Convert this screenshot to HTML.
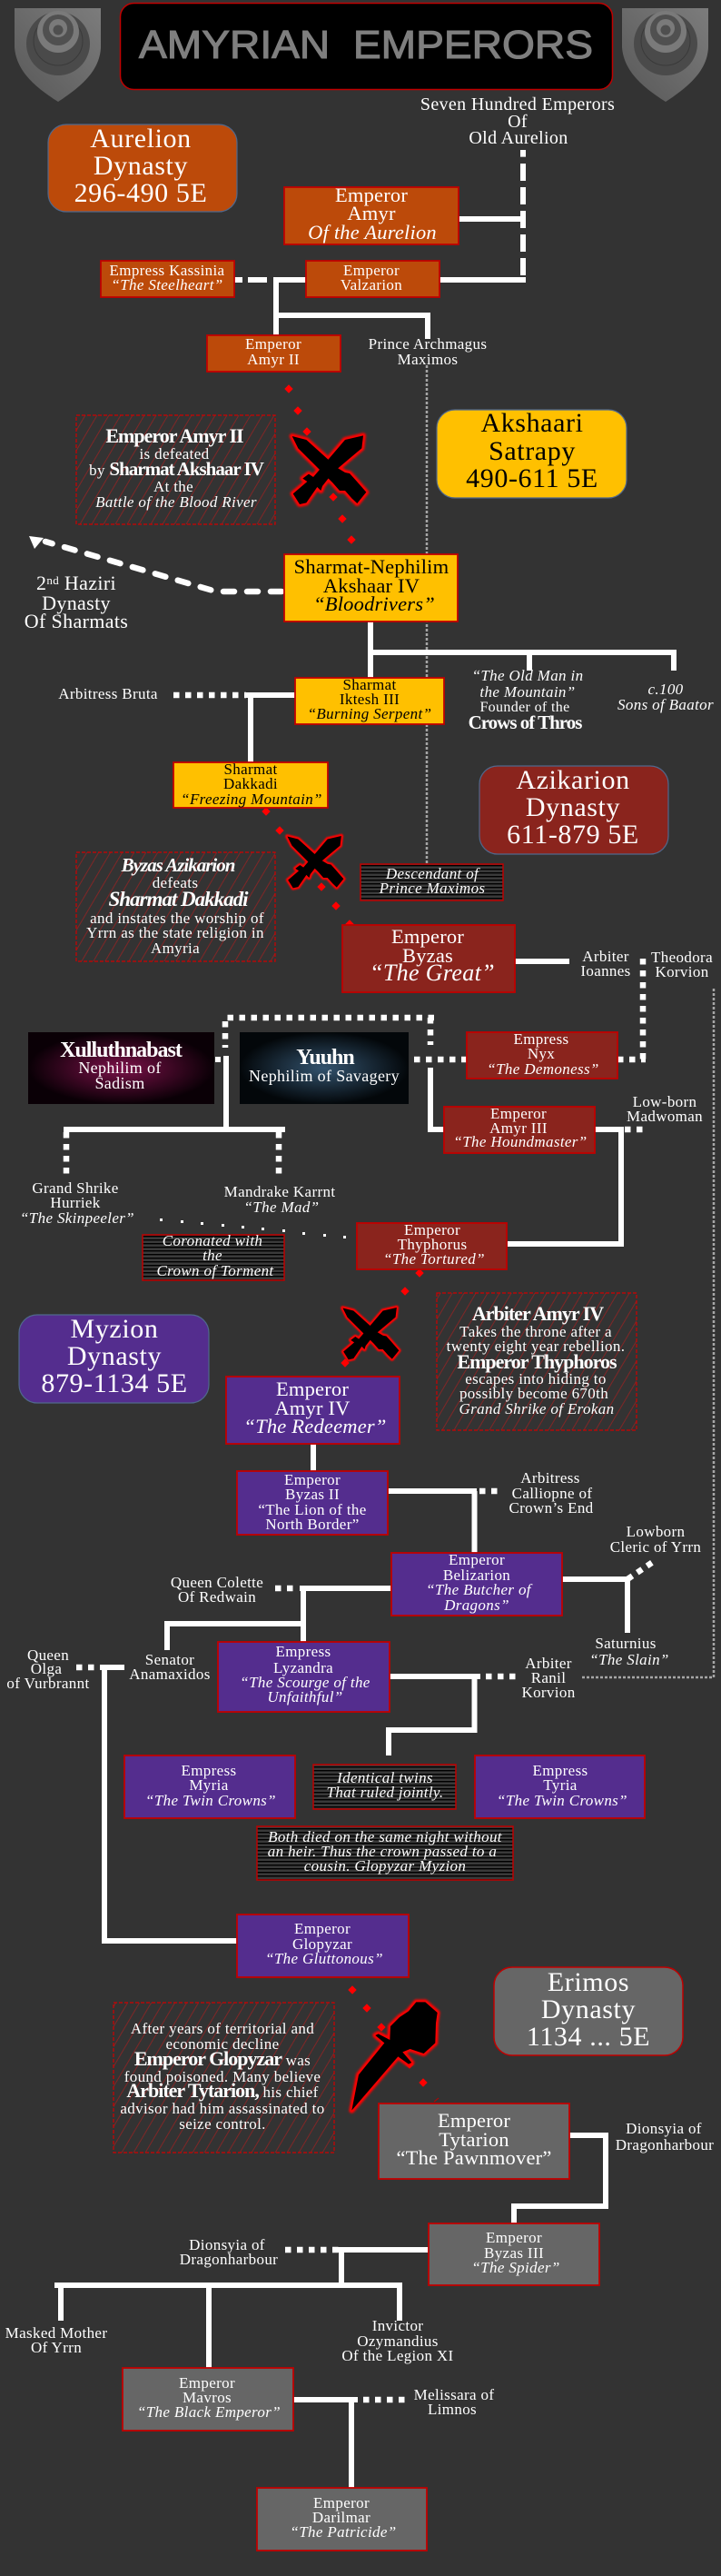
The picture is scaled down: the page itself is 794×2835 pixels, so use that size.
<!DOCTYPE html>
<html><head><meta charset="utf-8"><title>Amyrian Emperors</title>
<style>
html,body{margin:0;padding:0;background:#333}
svg{display:block}
text{font-family:"Liberation Serif",serif;fill:#fff;text-anchor:middle;font-size:17px;letter-spacing:.35px}
.k{fill:#000}
.i{font-style:italic}
.b{font-weight:bold;letter-spacing:-1px}
.d{font-size:30px;letter-spacing:.6px}
.l{font-size:22.5px;letter-spacing:.2px}
.box{stroke:#c00000;stroke-width:1.8}
.or{fill:#bc4a0a}.ye{fill:#ffc000}.re{fill:#8a241d}.pu{fill:#542d8e}.gr{fill:#666}
.w{stroke:#fff;stroke-width:6;fill:none}
.dot{stroke:#fff;stroke-width:6.5;stroke-dasharray:6.5 6.5;fill:none}
.note{fill:url(#hatch);stroke:#d00000;stroke-width:1.2;stroke-dasharray:4 2}
.str{fill:url(#stripe);stroke:#c00000;stroke-width:1.5}
.g{stroke:#a6a6a6;stroke-width:2.5;stroke-dasharray:3 2;fill:none}
</style></head><body>
<svg xmlns="http://www.w3.org/2000/svg" width="794" height="2835" viewBox="0 0 794 2835">
<defs>
<pattern id="hatch" width="13" height="22" patternUnits="userSpaceOnUse">
<rect width="13" height="22" fill="#333"/><path d="M0 22L13 0M-13 22L0 0M13 22L26 0" stroke="#7f2626" stroke-width="1" fill="none"/></pattern>
<pattern id="stripe" width="4" height="4" patternUnits="userSpaceOnUse">
<rect width="4" height="4" fill="#3a3a3a"/><rect width="4" height="1.4" fill="#000"/></pattern>
<linearGradient id="sg" x1="1" y1="0" x2="0" y2="1"><stop offset="0" stop-color="#7c7c7c"/><stop offset="1" stop-color="#585858"/></linearGradient>
<radialGradient id="xg"><stop offset="0" stop-color="#7a1048"/><stop offset="1" stop-color="#0a0006"/></radialGradient>
<radialGradient id="yg"><stop offset="0" stop-color="#33536e"/><stop offset="1" stop-color="#03070a"/></radialGradient>
<filter id="bl" x="-20%" y="-20%" width="140%" height="140%"><feGaussianBlur stdDeviation="3"/></filter>
<symbol id="shield" viewBox="0 0 130 120" width="130" height="120">
<path d="M16 9L111 9L111 52C110 80 85 98 64 112C42 98 18 80 16 52Z" fill="url(#sg)"/>
<circle cx="64" cy="48" r="35" fill="#4a4a4a"/>
<circle cx="64" cy="45" r="27" fill="none" stroke="#3a3a3a"/>
<circle cx="64" cy="35" r="23" fill="#7a7a7a"/>
<circle cx="64" cy="33" r="17" fill="#505050"/>
<circle cx="64" cy="31" r="10" fill="#7a7a7a"/>
<circle cx="64" cy="33" r="5.5" fill="#4f4f4f"/>
</symbol>
<symbol id="swords" viewBox="0 0 360 330" width="120" height="110">
<g filter="url(#bl)" fill="#f00" stroke="#f00" stroke-width="18" stroke-linejoin="round">
<path d="M65 60L112 72L215 165L240 180L255 183L275 205L310 245L280 282L262 265L240 240L222 240L200 215L85 100Z"/>
<path d="M300 58L295 100L200 180L165 225L160 240L148 228L112 280L90 285L68 250L115 210L100 200L120 185L135 195L240 72Z"/>
</g>
<g fill="#000">
<path d="M65 60L112 72L215 165L240 180L255 183L275 205L310 245L280 282L262 265L240 240L222 240L200 215L85 100Z"/>
<path d="M300 58L295 100L200 180L165 225L160 240L148 228L112 280L90 285L68 250L115 210L100 200L120 185L135 195L240 72Z"/>
</g>
</symbol>
</defs>
<rect width="794" height="2835" fill="#333"/>

<use href="#shield" x="0" y="0"/>
<use href="#shield" x="669" y="0"/>
<rect x="132.500" y="3.500" width="542" height="95" rx="15" fill="#000" stroke="#c00000" stroke-width="1.500"/>
<text x="403" y="64" textLength="500" lengthAdjust="spacingAndGlyphs" style="font-family:'Liberation Sans',sans-serif;font-size:44px;fill:#7f7f7f;stroke:#7f7f7f;stroke-width:1.1px;letter-spacing:0">AMYRIAN&#160;&#160;EMPERORS</text>

<!-- gray dotted -->
<path class="g" d="M470 402V960"/>
<path class="g" d="M786 1088V1846H639"/>

<!-- connectors -->
<g>
<path class="w" stroke-dasharray="19 7" d="M576 180V305"/>
<path class="w" d="M576 165V172.600M505 241H576M484 308H579M302 308H337M304 305V369M304 347H474M471 347V373"/>
<path class="w" d="M258 308H267M273 308H294"/>

<path class="w" d="M408 684V746M405 718H745M583 718V738M742 718V738"/>
<path class="dot" d="M191 765H271"/>
<path class="w" d="M271 765H325M276 762V839"/>

<path class="w" stroke-width="7" d="M567 1058H627"/>
<path class="dot" d="M708 1055V1167"/>
<path class="dot" d="M680 1166H711"/>
<path class="dot" d="M478 1120H248V1153"/>
<path class="dot" d="M474 1120V1150"/>
<path class="dot" d="M456 1166H514"/>
<path class="w" d="M237 1166H243"/>
<path class="w" d="M249 1162V1243M70 1243H314M474 1175V1246M471 1243H489M655 1243H684M684 1240V1369M559 1369H687"/>
<path class="dot" d="M73 1246V1292"/>
<path class="dot" d="M307 1246V1296"/>
<path class="dot" d="M688 1243H713"/>
<g fill="#fff"><rect x="176" y="1341" width="3" height="3"/><rect x="199" y="1343" width="3" height="3"/><rect x="221" y="1345" width="3" height="3"/><rect x="244" y="1347" width="3" height="3"/><rect x="266" y="1349" width="3" height="3"/><rect x="288" y="1351" width="3" height="3"/><rect x="311" y="1353" width="3" height="3"/><rect x="333" y="1356" width="3" height="3"/><rect x="356" y="1358" width="3" height="3"/><rect x="378" y="1360" width="3" height="3"/></g>

<path class="w" d="M345 1589V1619M427 1641H525M522.500 1641V1709"/>
<path class="dot" d="M528 1641H554"/>
<path class="w" d="M619 1738H694M691 1735V1797"/>
<path class="dot" stroke-dasharray="6 4" d="M691 1738L719 1719"/>
<path class="dot" d="M303 1748H324"/>
<path class="w" d="M330 1748H431M334 1745V1807M181 1787H337M184 1784V1816"/>
<path class="w" d="M429 1845H529M522.500 1845V1907M522 1904H425M428 1901V1932"/>
<path class="dot" d="M535 1845H570"/>
<path class="dot" d="M84 1835H104"/>
<path class="w" d="M110 1835H137M115 1832V2136M112 2136H261"/>

<path class="w" d="M627 2350H670M667 2347V2431M670 2428H563M566 2425V2447"/>
<path class="dot" d="M314 2476H375"/>
<path class="w" d="M372 2476H472M376 2473V2515M60 2515H440M67 2512V2554M230 2515V2606M440 2512V2554"/>
<path class="w" stroke-width="7" d="M323 2641H394"/>
<path class="w" d="M387 2638V2738"/>
<path class="dot" d="M400 2641H448"/>
</g>

<!-- haziri arrow -->
<path d="M310 651H238L50 596" fill="none" stroke="#fff" stroke-width="6.500" stroke-linecap="round" stroke-dasharray="12 14"/>
<path d="M32 590L48 592L38 604Z" fill="#fff"/>

<!-- red diamonds -->
<g fill="#f00" stroke="#f00" stroke-width="1">
<path d="M318 424l4 4-4 4-4-4zM328 448l4 4-4 4-4-4zM338 471l4 4-4 4-4-4zM367 543l4 4-4 4-4-4zM377 567l4 4-4 4-4-4zM387 590l4 4-4 4-4-4z"/>
<path d="M293 889l4 4-4 4-4-4zM308 910l4 4-4 4-4-4zM354 972l4 4-4 4-4-4zM370 993l4 4-4 4-4-4zM385 1013l5 5h-10z"/>
<path d="M462 1397l4 4-4 4-4-4zM446 1417l4 4-4 4-4-4zM380 1496l4 4-4 4-4-4z"/>
<path d="M388 2186l4 4-4 4-4-4zM404 2206l4 4-4 4-4-4zM420 2227l4 4-4 4-4-4zM451 2268l4 4-4 4-4-4zM466 2288l4 4-4 4-4-4z"/>
</g>
<path d="M478 2313l5-4" stroke="#c00000" fill="none"/>

<!-- swords -->
<use href="#swords" x="300" y="460"/>
<use href="#swords" x="300" y="905" width="91" height="84"/>
<use href="#swords" x="361" y="1424" width="91" height="84"/>
<g transform="translate(370 2190) scale(.3333)">
<path filter="url(#bl)" fill="#f00" stroke="#f00" stroke-width="18" stroke-linejoin="round" d="M52 398L75 280L160 175L130 150L140 145L178 165L180 120L210 90L240 70L265 40L295 40L335 75L330 110L328 175L290 210L245 195L220 205L250 240L240 245L205 220Z"/>
<path fill="#000" d="M52 398L75 280L160 175L130 150L140 145L178 165L180 120L210 90L240 70L265 40L295 40L335 75L330 110L328 175L290 210L245 195L220 205L250 240L240 245L205 220Z"/>
</g>

<!-- Dynasty badges -->
<g stroke="#50688c" stroke-width="1.200">
<rect class="or" x="53" y="137" width="208" height="96" rx="20"/>
<rect class="ye" x="481" y="451" width="209" height="97" rx="20"/>
<rect class="re" x="528" y="843" width="208" height="97" rx="20"/>
<rect class="pu" x="21" y="1447" width="209" height="97" rx="20"/>
</g>
<rect class="gr" x="544" y="2165" width="208" height="97" rx="20" stroke="#c00000" stroke-width="1.500"/>
<g>
<text class="d" x="155" y="162">Aurelion</text><text class="d" x="155" y="192">Dynasty</text><text class="d" x="155" y="222">296-490 5E</text>
<text class="d k" x="586" y="475">Akshaari</text><text class="d k" x="586" y="506">Satrapy</text><text class="d k" x="586" y="536">490-611 5E</text>
<text class="d" x="631" y="868">Azikarion</text><text class="d" x="631" y="898">Dynasty</text><text class="d" x="631" y="928">611-879 5E</text>
<text class="d" x="126" y="1472">Myzion</text><text class="d" x="126" y="1502">Dynasty</text><text class="d" x="126" y="1532">879-1134 5E</text>
<text class="d" x="648" y="2191">Erimos</text><text class="d" x="648" y="2221">Dynasty</text><text class="d" x="648" y="2251">1134 ... 5E</text>
</g>

<!-- boxes -->
<rect class="box or" x="313" y="206" width="192" height="63"/>
<rect class="box or" x="111" y="287" width="147" height="40"/>
<rect class="box or" x="337" y="287" width="147" height="40"/>
<rect class="box or" x="228" y="369" width="147" height="40"/>
<rect class="box ye" x="313" y="610" width="191" height="74"/>
<rect class="box ye" x="325" y="746" width="164" height="51"/>
<rect class="box ye" x="191" y="839" width="170" height="50"/>
<rect class="box re" x="377" y="1018" width="190" height="74"/>
<rect class="box re" x="514" y="1136" width="166" height="51"/>
<rect class="box re" x="489" y="1218" width="166" height="51"/>
<rect class="box re" x="393" y="1346" width="165" height="51"/>
<rect class="box pu" x="249" y="1515" width="191" height="74"/>
<rect class="box pu" x="261" y="1619" width="166" height="70"/>
<rect class="box pu" x="431" y="1709" width="188" height="69"/>
<rect class="box pu" x="240" y="1807" width="189" height="77"/>
<rect class="box pu" x="137" y="1932" width="188" height="69"/>
<rect class="box pu" x="523" y="1932" width="187" height="69"/>
<rect class="box pu" x="261" y="2107" width="189" height="69"/>
<rect class="box gr" x="417" y="2315" width="210" height="83"/>
<rect class="box gr" x="472" y="2447" width="188" height="68"/>
<rect class="box gr" x="135" y="2606" width="188" height="69"/>
<rect class="box gr" x="283" y="2738" width="187" height="69"/>
<rect x="31" y="1136" width="205" height="79" fill="url(#xg)"/>
<rect x="264" y="1136" width="186" height="79" fill="url(#yg)"/>
<rect class="note" x="84" y="457" width="219" height="120"/>
<rect class="note" x="84" y="938" width="219" height="120"/>
<rect class="note" x="481" y="1423" width="220" height="151"/>
<rect class="note" x="125" y="2204" width="243" height="165"/>
<rect class="str" x="397" y="951" width="157" height="40"/>
<rect class="str" x="157" y="1359" width="156" height="50"/>
<rect class="str" x="345" y="1942" width="157" height="49"/>
<rect class="str" x="283" y="2010" width="282" height="59"/>

<!-- labels -->
<g>
<text x="570" y="121" style="font-size:20px">Seven Hundred Emperors</text><text x="570" y="140" style="font-size:20px">Of</text><text x="571" y="158" style="font-size:20px">Old Aurelion</text>
<text class="l" x="409" y="222">Emperor</text><text class="l" x="409" y="242">Amyr</text><text class="l i" x="410" y="263">Of the Aurelion</text>
<text x="184" y="303">Empress Kassinia</text><text class="i" x="184" y="319">“The Steelheart”</text>
<text x="409" y="303">Emperor</text><text x="409" y="319">Valzarion</text>
<text x="301" y="384">Emperor</text><text x="301" y="401">Amyr II</text>
<text x="471" y="384">Prince Archmagus</text><text x="471" y="401">Maximos</text>

<text class="b" x="192" y="487" style="font-size:22px">Emperor Amyr II</text>
<text x="192" y="505">is defeated</text>
<text x="194" y="523">by <tspan class="b" style="font-size:21px">Sharmat Akshaar IV</tspan></text>
<text x="191" y="541">At the</text>
<text class="i" x="194" y="558">Battle of the Blood River</text>

<text class="l k" x="409" y="631">Sharmat-Nephilim</text><text class="l k" x="409" y="652">Akshaar IV</text><text class="l k i" x="412" y="672">“Bloodrivers”</text>
<text x="84" y="649" style="font-size:22px">2<tspan dy="-6" style="font-size:13px">nd</tspan><tspan dy="6"> Haziri</tspan></text>
<text x="84" y="671" style="font-size:22px">Dynasty</text><text x="84" y="691" style="font-size:22px">Of Sharmats</text>
<text x="119" y="769">Arbitress Bruta</text>
<text class="k" x="407" y="759">Sharmat</text><text class="k" x="407" y="775">Iktesh III</text><text class="k i" x="407" y="791">“Burning Serpent”</text>
<text class="i" x="581" y="749">“The Old Man in</text><text class="i" x="581" y="767">the Mountain”</text>
<text x="578" y="783" style="font-size:16px">Founder of the</text>
<text class="b" x="578" y="802" style="font-size:21px">Crows of Thros</text>
<text class="i" x="733" y="764">c.100</text><text class="i" x="733" y="781">Sons of Baator</text>
<text class="k" x="276" y="852">Sharmat</text><text class="k" x="276" y="868">Dakkadi</text><text class="k i" x="277" y="885">“Freezing Mountain”</text>

<text class="b i" x="196" y="959" style="font-size:21px">Byzas Azikarion</text>
<text x="193" y="977">defeats</text>
<text class="b i" x="196" y="997" style="font-size:23px">Sharmat Dakkadi</text>
<text x="195" y="1016">and instates the worship of</text><text x="193" y="1032">Yrrn as the state religion in</text><text x="193" y="1049">Amyria</text>
<text class="i" x="476" y="967">Descendant of</text><text class="i" x="476" y="983">Prince Maximos</text>

<text class="l" x="471" y="1038">Emperor</text><text class="l" x="471" y="1059">Byzas</text><text class="i" x="476" y="1079" style="font-size:26px">“The Great”</text>
<text x="667" y="1058">Arbiter</text><text x="667" y="1074">Ioannes</text>
<text x="751" y="1059">Theodora</text><text x="751" y="1075">Korvion</text>
<text x="596" y="1149">Empress</text><text x="596" y="1165">Nyx</text><text class="i" x="598" y="1182">“The Demoness”</text>
<text class="b" x="133" y="1163" style="font-size:24px">Xulluthnabast</text><text x="132" y="1181" style="font-size:18px">Nephilim of</text><text x="132" y="1198" style="font-size:18px">Sadism</text>
<text class="b" x="358" y="1171" style="font-size:24px">Yuuhn</text><text x="357" y="1190" style="font-size:18px">Nephilim of Savagery</text>
<text x="571" y="1231">Emperor</text><text x="571" y="1247">Amyr III</text><text class="i" x="573" y="1262">“The Houndmaster”</text>
<text x="732" y="1218">Low-born</text><text x="732" y="1234">Madwoman</text>
<text x="83" y="1313">Grand Shrike</text><text x="83" y="1329">Hurriek</text><text class="i" x="85" y="1346">“The Skinpeeler”</text>
<text x="308" y="1317">Mandrake Karrnt</text><text class="i" x="310" y="1334">“The Mad”</text>
<text class="i" x="234" y="1371">Coronated with</text><text class="i" x="234" y="1387">the</text><text class="i" x="237" y="1404">Crown of Torment</text>
<text x="476" y="1359">Emperor</text><text x="476" y="1375">Thyphorus</text><text class="i" x="478" y="1391">“The Tortured”</text>

<text class="b" x="592" y="1453" style="font-size:22px">Arbiter Amyr IV</text>
<text x="590" y="1471">Takes the throne after a</text><text x="590" y="1487">twenty eight year rebellion.</text>
<text class="b" x="591" y="1506" style="font-size:22px">Emperor Thyphoros</text>
<text x="590" y="1523">escapes into hiding to</text><text x="588" y="1539">possibly become 670th</text><text class="i" x="591" y="1556">Grand Shrike of Erokan</text>

<text class="l" x="344" y="1536">Emperor</text><text class="l" x="344" y="1557">Amyr IV</text><text class="l i" x="347" y="1577">“The Redeemer”</text>
<text x="344" y="1634">Emperor</text><text x="344" y="1650">Byzas II</text><text x="344" y="1667">“The Lion of the</text><text x="344" y="1683">North Border”</text>
<text x="606" y="1632">Arbitress</text><text x="608" y="1649">Calliopne of</text><text x="607" y="1665">Crown’s End</text>
<text x="525" y="1722">Emperor</text><text x="525" y="1739">Belizarion</text><text class="i" x="527" y="1755">“The Butcher of</text><text class="i" x="525" y="1772">Dragons”</text>
<text x="722" y="1691">Lowborn</text><text x="722" y="1708">Cleric of Yrrn</text>
<text x="239" y="1747">Queen Colette</text><text x="239" y="1763">Of Redwain</text>
<text x="689" y="1814">Saturnius</text><text class="i" x="693" y="1832">“The Slain”</text>
<text x="187" y="1832">Senator</text><text x="187" y="1848">Anamaxidos</text>
<text x="334" y="1823">Empress</text><text x="334" y="1841">Lyzandra</text><text class="i" x="336" y="1857">“The Scourge of the</text><text class="i" x="336" y="1873">Unfaithful”</text>
<text x="604" y="1836">Arbiter</text><text x="604" y="1852">Ranil</text><text x="604" y="1868">Korvion</text>
<text x="53" y="1827">Queen</text><text x="51" y="1842">Olga</text><text x="53" y="1858">of Vurbrannt</text>

<text x="230" y="1954">Empress</text><text x="230" y="1970">Myria</text><text class="i" x="232" y="1987">“The Twin Crowns”</text>
<text x="617" y="1954">Empress</text><text x="617" y="1970">Tyria</text><text class="i" x="619" y="1987">“The Twin Crowns”</text>
<text class="i" x="424" y="1962">Identical twins</text><text class="i" x="424" y="1978">That ruled jointly.</text>
<text class="i" x="424" y="2027">Both died on the same night without</text><text class="i" x="421" y="2043">an heir. Thus the crown passed to a</text><text class="i" x="424" y="2059">cousin. Glopyzar Myzion</text>
<text x="355" y="2128">Emperor</text><text x="355" y="2145">Glopyzar</text><text class="i" x="357" y="2161">“The Gluttonous”</text>

<text x="245" y="2238">After years of territorial and</text><text x="245" y="2255">economic decline</text>
<text x="245" y="2273"><tspan class="b" style="font-size:22px">Emperor Glopyzar</tspan> was</text>
<text x="245" y="2291">found poisoned. Many believe</text>
<text x="245" y="2308"><tspan class="b" style="font-size:22px">Arbiter Tytarion,</tspan> his chief</text>
<text x="245" y="2326">advisor had him assassinated to</text><text x="245" y="2343">seize control.</text>

<text class="l" x="522" y="2341">Emperor</text><text class="l" x="522" y="2362">Tytarion</text><text class="l" x="522" y="2382">“The Pawnmover”</text>
<text x="731" y="2348">Dionsyia of</text><text x="732" y="2366">Dragonharbour</text>
<text x="566" y="2468">Emperor</text><text x="566" y="2485">Byzas III</text><text class="i" x="568" y="2501">“The Spider”</text>
<text x="250" y="2476">Dionsyia of</text><text x="252" y="2492">Dragonharbour</text>
<text x="62" y="2573">Masked Mother</text><text x="62" y="2589">Of Yrrn</text>
<text x="438" y="2565">Invictor</text><text x="438" y="2582">Ozymandius</text><text x="438" y="2598">Of the Legion XI</text>
<text x="228" y="2628">Emperor</text><text x="228" y="2644">Mavros</text><text class="i" x="230" y="2660">“The Black Emperor”</text>
<text x="500" y="2641">Melissara of</text><text x="498" y="2657">Limnos</text>
<text x="376" y="2760">Emperor</text><text x="376" y="2776">Darilmar</text><text class="i" x="378" y="2792">“The Patricide”</text>
</g>
</svg>
</body></html>
